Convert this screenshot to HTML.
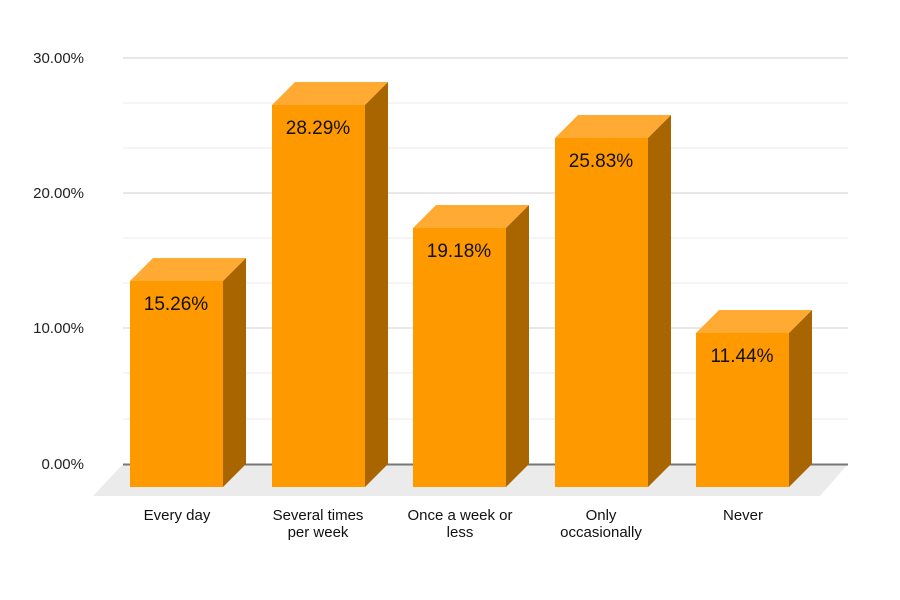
<!DOCTYPE html>
<html><head><style>body{margin:0;background:#fff}svg{display:block}text{font-family:"Liberation Sans",Arial,sans-serif}</style></head><body>
<svg width="900" height="600" xmlns="http://www.w3.org/2000/svg">
<polygon points="123,464 848,464 820,496 93,496" fill="#ebebeb"/>
<g stroke="#ebebeb" stroke-width="1">
<line x1="123" y1="103" x2="848" y2="103"/><line x1="123" y1="148" x2="848" y2="148"/>
<line x1="123" y1="238" x2="848" y2="238"/><line x1="123" y1="283" x2="848" y2="283"/>
<line x1="123" y1="373" x2="848" y2="373"/><line x1="123" y1="419" x2="848" y2="419"/>
</g>
<g stroke="#d0d0d0" stroke-width="1">
<line x1="123" y1="58" x2="848" y2="58"/><line x1="123" y1="193" x2="848" y2="193"/><line x1="123" y1="328" x2="848" y2="328"/>
</g>
<line x1="123" y1="464.5" x2="848" y2="464.5" stroke="#777" stroke-width="2"/>
<g font-size="15" fill="#222" text-anchor="end">
<text x="84" y="63">30.00%</text><text x="84" y="198">20.00%</text><text x="84" y="333">10.00%</text><text x="84" y="469">0.00%</text>
</g>

<polygon points="130,281 153,258 246,258 223,281" fill="#ffab33"/>
<polygon points="223,281 246,258 246,464 223,487" fill="#a86500"/>
<rect x="130" y="281" width="93" height="206" fill="#ff9900"/>
<text x="176" y="310" font-size="19" text-anchor="middle" fill="#111">15.26%</text>

<polygon points="272,105 295,82 388,82 365,105" fill="#ffab33"/>
<polygon points="365,105 388,82 388,464 365,487" fill="#a86500"/>
<rect x="272" y="105" width="93" height="382" fill="#ff9900"/>
<text x="318" y="134" font-size="19" text-anchor="middle" fill="#111">28.29%</text>

<polygon points="413,228 436,205 529,205 506,228" fill="#ffab33"/>
<polygon points="506,228 529,205 529,464 506,487" fill="#a86500"/>
<rect x="413" y="228" width="93" height="259" fill="#ff9900"/>
<text x="459" y="257" font-size="19" text-anchor="middle" fill="#111">19.18%</text>

<polygon points="555,138 578,115 671,115 648,138" fill="#ffab33"/>
<polygon points="648,138 671,115 671,464 648,487" fill="#a86500"/>
<rect x="555" y="138" width="93" height="349" fill="#ff9900"/>
<text x="601" y="167" font-size="19" text-anchor="middle" fill="#111">25.83%</text>

<polygon points="696,333 719,310 812,310 789,333" fill="#ffab33"/>
<polygon points="789,333 812,310 812,464 789,487" fill="#a86500"/>
<rect x="696" y="333" width="93" height="154" fill="#ff9900"/>
<text x="742" y="362" font-size="19" text-anchor="middle" fill="#111">11.44%</text>

<g font-size="15" fill="#111" text-anchor="middle">
<text x="177" y="520">Every day</text>
<text x="318" y="520">Several times</text><text x="318" y="537">per week</text>
<text x="460" y="520">Once a week or</text><text x="460" y="537">less</text>
<text x="601" y="520">Only</text><text x="601" y="537">occasionally</text>
<text x="743" y="520">Never</text>
</g>
</svg>
</body></html>
